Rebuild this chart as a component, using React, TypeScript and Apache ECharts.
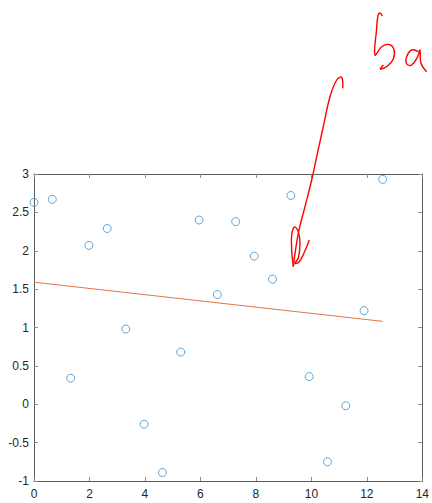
import React, { useEffect, useRef } from "react";
import * as echarts from "echarts";

const xValues = [0, 0.66, 1.32, 1.98, 2.64, 3.31, 3.97, 4.63, 5.29, 5.95, 6.61, 7.27, 7.94, 8.6, 9.26, 9.92, 10.58, 11.24, 11.9, 12.57];
const yValues = [2.63, 2.67, 0.34, 2.07, 2.29, 0.98, -0.26, -0.89, 0.68, 2.4, 1.43, 2.38, 1.93, 1.63, 2.72, 0.36, -0.75, -0.02, 1.22, 2.93];
const fitX = [0, 12.57];
const fitY = [1.59, 1.08];

// handwritten ink annotation strokes (page pixel coordinates)
const inkArrow = [
  [342.7, 88.3], [341.7, 77.3], [336.7, 80], [330, 96.7], [323.3, 126.7], [316.7, 156.7],
  [311.7, 180], [305, 206.7], [298.3, 233.3], [293.3, 266.7],
];
const inkLoop = [
  [293.3, 266.7], [291.7, 250], [291.7, 235], [294.5, 227], [298.3, 231.7], [300, 243.3],
  [298.3, 258], [295, 263.3], [299, 262], [304, 253], [309.3, 240],
];
const inkB = [
  [382.3, 16], [380, 13], [378, 15.5], [376.5, 30], [375, 55],
  [381.7, 46.7], [389, 44.5], [394, 49.5], [393.3, 59], [387, 66.5], [380, 69.3],
];
const inkBTail = [[380, 69.3], [383.3, 65]];
const inkA = [
  [418.3, 51.7], [411.7, 50], [406.7, 56.7], [406.7, 64], [411.7, 65], [417.7, 56.7],
  [420, 50], [421, 63.3], [426.7, 71.7],
];

export default function App() {
  const ref = useRef<HTMLDivElement>(null);
  useEffect(() => {
    if (!ref.current) return;
    const chart = echarts.init(ref.current, null, { renderer: "svg" });
    const axisLine = { show: true, onZero: false, lineStyle: { color: "#5c5c5c", width: 1 } };
    const axisTick = { show: true, inside: true, length: 4, lineStyle: { color: "#8a8a8a" } };
    const axisLabel = { color: "#262626", fontSize: 12, fontFamily: "Liberation Sans, Arial, sans-serif" };
    const ink = (pts: number[][], smooth = 0.4) => ({
      type: "polyline",
      shape: { points: pts, smooth },
      style: { stroke: "#ff0000", lineWidth: 1.4, fill: "none" },
      z: 100,
    });
    chart.setOption({
      animation: false,
      backgroundColor: "#fff",
      grid: { left: 34, right: 9, top: 174, bottom: 22, containLabel: false },
      xAxis: [
        { type: "value", min: 0, max: 14, interval: 2, axisLine, axisTick, splitLine: { show: false }, axisLabel: { ...axisLabel, margin: 7 } },
        { type: "value", position: "top", min: 0, max: 14, interval: 2, axisLine, axisTick, splitLine: { show: false }, axisLabel: { show: false } },
      ],
      yAxis: [
        { type: "value", min: -1, max: 3, interval: 0.5, axisLine, axisTick, splitLine: { show: false }, axisLabel: { ...axisLabel, margin: 5 } },
        { type: "value", position: "right", min: -1, max: 3, interval: 0.5, axisLine, axisTick, splitLine: { show: false }, axisLabel: { show: false } },
      ],
      series: [
        {
          type: "scatter",
          data: xValues.map((x, i) => [x, yValues[i]]),
          symbol: "circle",
          symbolSize: 8,
          itemStyle: { color: "rgba(255,255,255,0)", borderColor: "#3a8fd0", borderWidth: 1 },
        },
        {
          type: "line",
          data: fitX.map((x, i) => [x, fitY[i]]),
          showSymbol: false,
          lineStyle: { color: "#e0784a", width: 1 },
        },
      ],
      graphic: [ink(inkArrow), ink(inkLoop), ink(inkB), ink(inkBTail, 0), ink(inkA)],
    });
    return () => chart.dispose();
  }, []);
  return <div ref={ref} style={{ width: 432, height: 503, position: "absolute", left: 0, top: 0 }} />;
}
